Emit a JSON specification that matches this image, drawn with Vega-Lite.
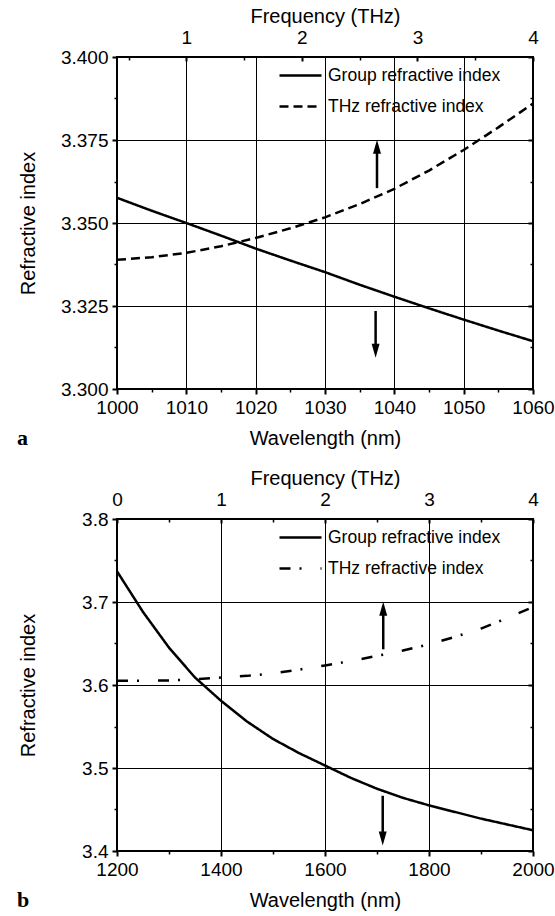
{
  "$schema": "https://vega.github.io/schema/vega-lite/v6.json",
  "background": "white",
  "padding": {"left": 16, "top": 5, "right": 0, "bottom": 0},
  "spacing": 130,
  "bounds": "flush",
  "datasets": {
    "a_curves": [
      {"lambda": 1000, "n": 3.3576, "series": "Group refractive index"},
      {"lambda": 1005, "n": 3.3537, "series": "Group refractive index"},
      {"lambda": 1010, "n": 3.3500, "series": "Group refractive index"},
      {"lambda": 1015, "n": 3.3462, "series": "Group refractive index"},
      {"lambda": 1020, "n": 3.3423, "series": "Group refractive index"},
      {"lambda": 1025, "n": 3.3387, "series": "Group refractive index"},
      {"lambda": 1030, "n": 3.3352, "series": "Group refractive index"},
      {"lambda": 1035, "n": 3.3314, "series": "Group refractive index"},
      {"lambda": 1040, "n": 3.3278, "series": "Group refractive index"},
      {"lambda": 1045, "n": 3.3243, "series": "Group refractive index"},
      {"lambda": 1050, "n": 3.3209, "series": "Group refractive index"},
      {"lambda": 1055, "n": 3.3176, "series": "Group refractive index"},
      {"lambda": 1060, "n": 3.3144, "series": "Group refractive index"},
      {"lambda": 1000, "n": 3.3389, "series": "THz refractive index"},
      {"lambda": 1005, "n": 3.3397, "series": "THz refractive index"},
      {"lambda": 1010, "n": 3.3410, "series": "THz refractive index"},
      {"lambda": 1015, "n": 3.3430, "series": "THz refractive index"},
      {"lambda": 1020, "n": 3.3455, "series": "THz refractive index"},
      {"lambda": 1025, "n": 3.3484, "series": "THz refractive index"},
      {"lambda": 1030, "n": 3.3517, "series": "THz refractive index"},
      {"lambda": 1035, "n": 3.3557, "series": "THz refractive index"},
      {"lambda": 1040, "n": 3.3603, "series": "THz refractive index"},
      {"lambda": 1045, "n": 3.3658, "series": "THz refractive index"},
      {"lambda": 1050, "n": 3.3720, "series": "THz refractive index"},
      {"lambda": 1055, "n": 3.3788, "series": "THz refractive index"},
      {"lambda": 1060, "n": 3.3860, "series": "THz refractive index"}
    ],
    "a_arrows": [
      {"lambda": 1037.5, "from": 3.3605, "to": 3.3730, "dir": "up"},
      {"lambda": 1037.3, "from": 3.3235, "to": 3.3115, "dir": "down"}
    ],
    "a_freq": [{"THz": 0.4, "n": 3.3}, {"THz": 4, "n": 3.4}],
    "b_curves": [
      {"lambda": 1200, "n": 3.737, "series": "Group refractive index"},
      {"lambda": 1250, "n": 3.688, "series": "Group refractive index"},
      {"lambda": 1300, "n": 3.645, "series": "Group refractive index"},
      {"lambda": 1350, "n": 3.609, "series": "Group refractive index"},
      {"lambda": 1400, "n": 3.581, "series": "Group refractive index"},
      {"lambda": 1450, "n": 3.556, "series": "Group refractive index"},
      {"lambda": 1500, "n": 3.535, "series": "Group refractive index"},
      {"lambda": 1550, "n": 3.518, "series": "Group refractive index"},
      {"lambda": 1600, "n": 3.503, "series": "Group refractive index"},
      {"lambda": 1650, "n": 3.488, "series": "Group refractive index"},
      {"lambda": 1700, "n": 3.475, "series": "Group refractive index"},
      {"lambda": 1750, "n": 3.464, "series": "Group refractive index"},
      {"lambda": 1800, "n": 3.455, "series": "Group refractive index"},
      {"lambda": 1850, "n": 3.447, "series": "Group refractive index"},
      {"lambda": 1900, "n": 3.439, "series": "Group refractive index"},
      {"lambda": 1950, "n": 3.432, "series": "Group refractive index"},
      {"lambda": 2000, "n": 3.425, "series": "Group refractive index"},
      {"lambda": 1200, "n": 3.605, "series": "THz refractive index"},
      {"lambda": 1250, "n": 3.605, "series": "THz refractive index"},
      {"lambda": 1300, "n": 3.6055, "series": "THz refractive index"},
      {"lambda": 1350, "n": 3.607, "series": "THz refractive index"},
      {"lambda": 1400, "n": 3.609, "series": "THz refractive index"},
      {"lambda": 1450, "n": 3.611, "series": "THz refractive index"},
      {"lambda": 1500, "n": 3.614, "series": "THz refractive index"},
      {"lambda": 1550, "n": 3.6185, "series": "THz refractive index"},
      {"lambda": 1600, "n": 3.6235, "series": "THz refractive index"},
      {"lambda": 1650, "n": 3.629, "series": "THz refractive index"},
      {"lambda": 1700, "n": 3.635, "series": "THz refractive index"},
      {"lambda": 1750, "n": 3.6415, "series": "THz refractive index"},
      {"lambda": 1800, "n": 3.649, "series": "THz refractive index"},
      {"lambda": 1850, "n": 3.658, "series": "THz refractive index"},
      {"lambda": 1900, "n": 3.668, "series": "THz refractive index"},
      {"lambda": 1950, "n": 3.6805, "series": "THz refractive index"},
      {"lambda": 2000, "n": 3.694, "series": "THz refractive index"}
    ],
    "b_arrows": [
      {"lambda": 1712, "from": 3.643, "to": 3.692, "dir": "up"},
      {"lambda": 1711, "from": 3.4665, "to": 3.415, "dir": "down"}
    ],
    "b_freq": [{"THz": 0, "n": 3.4}, {"THz": 4, "n": 3.8}]
  },
  "resolve": {
    "scale": {"strokeDash": "independent", "shape": "independent"},
    "legend": {"strokeDash": "independent", "shape": "independent"}
  },
  "vconcat": [
    {
      "width": 416,
      "height": 332,
      "title": {"text": "a", "orient": "bottom", "anchor": "start", "frame": "group", "offset": -21, "dx": -100, "font": "Liberation Serif", "fontWeight": "bold", "fontSize": 22, "color": "black"},
      "resolve": {"scale": {"x": "independent"}, "axis": {"x": "independent", "y": "independent"}},
      "layer": [
        {
          "data": {"name": "a_curves"},
          "mark": {"type": "line", "strokeWidth": 2.5, "color": "black"},
          "encoding": {
            "x": {"field": "lambda", "type": "quantitative", "scale": {"domain": [1000, 1060], "nice": false, "zero": false},
              "axis": {"orient": "bottom", "values": [1000, 1010, 1020, 1030, 1040, 1050, 1060], "format": "d", "title": "Wavelength (nm)", "grid": true, "tickSize": 5, "labelPadding": 4.5, "titlePadding": 11}},
            "y": {"field": "n", "type": "quantitative", "scale": {"domain": [3.3, 3.4], "nice": false, "zero": false},
              "axis": {"orient": "left", "values": [3.3, 3.325, 3.35, 3.375, 3.4], "format": ".3f", "title": "Refractive index", "grid": true, "tickSize": 5, "labelPadding": 4, "titleX": -79}},
            "strokeDash": {"field": "series", "type": "nominal",
              "scale": {"domain": ["Group refractive index", "THz refractive index"], "range": [[1, 0], [9, 5]]},
              "legend": {"orient": "none", "legendX": 161, "legendY": -4, "title": null, "symbolType": "stroke", "symbolSize": 1764, "symbolStrokeWidth": 2.5, "symbolStrokeColor": "black", "labelFont": "Liberation Sans", "labelFontSize": 17.5, "labelColor": "black", "labelOffset": 5, "labelLimit": 0, "rowPadding": -10, "padding": 0}}
          }
        },
        {
          "data": {"name": "a_curves"},
          "mark": {"type": "point", "opacity": 0},
          "encoding": {
            "x": {"field": "lambda", "type": "quantitative", "scale": {"domain": [1000, 1060], "nice": false, "zero": false}, "axis": {"orient": "bottom", "values": [1005, 1015, 1025, 1035, 1045, 1055], "labels": false, "title": null, "grid": false, "tickSize": 3, "tickWidth": 1.5}},
            "y": {"field": "n", "type": "quantitative", "axis": {"orient": "left", "values": [3.3125, 3.3375, 3.3625, 3.3875], "labels": false, "title": null, "grid": false, "tickSize": 3, "tickWidth": 1.5}}
          }
        },
        {
          "data": {"name": "a_curves"},
          "mark": {"type": "point", "opacity": 0},
          "encoding": {
            "x": {"field": "lambda", "type": "quantitative", "scale": {"domain": [1000, 1060], "nice": false, "zero": false}, "axis": null},
            "y": {"field": "n", "type": "quantitative", "axis": {"orient": "right", "values": [3.3, 3.325, 3.35, 3.375, 3.4], "labels": false, "title": null, "grid": false, "tickSize": -5}}
          }
        },
        {
          "data": {"name": "a_curves"},
          "mark": {"type": "point", "opacity": 0},
          "encoding": {
            "x": {"field": "lambda", "type": "quantitative", "scale": {"domain": [1000, 1060], "nice": false, "zero": false}, "axis": null},
            "y": {"field": "n", "type": "quantitative", "axis": {"orient": "right", "values": [3.3125, 3.3375, 3.3625, 3.3875], "labels": false, "title": null, "grid": false, "tickSize": -3, "tickWidth": 1.5}}
          }
        },
        {
          "data": {"name": "a_arrows"},
          "mark": {"type": "rule", "strokeWidth": 2.5, "color": "black"},
          "encoding": {
            "x": {"field": "lambda", "type": "quantitative", "scale": {"domain": [1000, 1060], "nice": false, "zero": false}, "axis": null},
            "y": {"field": "from", "type": "quantitative", "axis": null},
            "y2": {"field": "to"}
          }
        },
        {
          "data": {"name": "a_arrows"},
          "mark": {"type": "point", "filled": true, "color": "black", "opacity": 1, "size": 196},
          "encoding": {
            "x": {"field": "lambda", "type": "quantitative", "scale": {"domain": [1000, 1060], "nice": false, "zero": false}, "axis": null},
            "y": {"field": "to", "type": "quantitative", "axis": null},
            "shape": {"field": "dir", "type": "nominal", "scale": {"domain": ["up", "down"], "range": ["M0,-1L0.57,1L-0.57,1Z", "M0,1L0.57,-1L-0.57,-1Z"]}, "legend": null}
          }
        },
        {
          "data": {"name": "a_freq"},
          "mark": {"type": "point", "opacity": 0},
          "encoding": {
            "x": {"field": "THz", "type": "quantitative", "scale": {"domain": [0.4, 4], "nice": false, "zero": false},
              "axis": {"orient": "top", "values": [1, 2, 3, 4], "format": "d", "title": "Frequency (THz)", "grid": false, "tickSize": -4, "labelPadding": 14, "titlePadding": 2}},
            "y": {"field": "n", "type": "quantitative", "axis": null}
          }
        },
        {
          "data": {"name": "a_freq"},
          "mark": {"type": "point", "opacity": 0},
          "encoding": {
            "x": {"field": "THz", "type": "quantitative", "scale": {"domain": [0.4, 4], "nice": false, "zero": false}, "axis": {"orient": "top", "values": [0.5, 1.5, 2.5, 3.5], "labels": false, "title": null, "grid": false, "tickSize": -3, "tickWidth": 1.5}},
            "y": {"field": "n", "type": "quantitative", "axis": null}
          }
        }
      ]
    },
    {
      "width": 416,
      "height": 332,
      "title": {"text": "b", "orient": "bottom", "anchor": "start", "frame": "group", "offset": -21, "dx": -100, "font": "Liberation Serif", "fontWeight": "bold", "fontSize": 22, "color": "black"},
      "resolve": {"scale": {"x": "independent"}, "axis": {"x": "independent", "y": "independent"}},
      "layer": [
        {
          "data": {"name": "b_curves"},
          "mark": {"type": "line", "strokeWidth": 2.5, "color": "black"},
          "encoding": {
            "x": {"field": "lambda", "type": "quantitative", "scale": {"domain": [1200, 2000], "nice": false, "zero": false},
              "axis": {"orient": "bottom", "values": [1200, 1400, 1600, 1800, 2000], "format": "d", "title": "Wavelength (nm)", "grid": true, "tickSize": 5, "labelPadding": 4.5, "titlePadding": 11}},
            "y": {"field": "n", "type": "quantitative", "scale": {"domain": [3.4, 3.8], "nice": false, "zero": false},
              "axis": {"orient": "left", "values": [3.4, 3.5, 3.6, 3.7, 3.8], "format": ".1f", "title": "Refractive index", "grid": true, "tickSize": 5, "labelPadding": 4, "titleX": -79}},
            "strokeDash": {"field": "series", "type": "nominal",
              "scale": {"domain": ["Group refractive index", "THz refractive index"], "range": [[1, 0], [11, 9, 2, 19]]},
              "legend": {"orient": "none", "legendX": 161, "legendY": -4, "title": null, "symbolType": "stroke", "symbolSize": 1764, "symbolStrokeWidth": 2.5, "symbolStrokeColor": "black", "labelFont": "Liberation Sans", "labelFontSize": 17.5, "labelColor": "black", "labelOffset": 5, "labelLimit": 0, "rowPadding": -10, "padding": 0}}
          }
        },
        {
          "data": {"name": "b_curves"},
          "mark": {"type": "point", "opacity": 0},
          "encoding": {
            "x": {"field": "lambda", "type": "quantitative", "scale": {"domain": [1200, 2000], "nice": false, "zero": false}, "axis": {"orient": "bottom", "values": [1300, 1500, 1700, 1900], "labels": false, "title": null, "grid": false, "tickSize": 3, "tickWidth": 1.5}},
            "y": {"field": "n", "type": "quantitative", "axis": {"orient": "left", "values": [3.45, 3.55, 3.65, 3.75], "labels": false, "title": null, "grid": false, "tickSize": 3, "tickWidth": 1.5}}
          }
        },
        {
          "data": {"name": "b_curves"},
          "mark": {"type": "point", "opacity": 0},
          "encoding": {
            "x": {"field": "lambda", "type": "quantitative", "scale": {"domain": [1200, 2000], "nice": false, "zero": false}, "axis": null},
            "y": {"field": "n", "type": "quantitative", "axis": {"orient": "right", "values": [3.4, 3.5, 3.6, 3.7, 3.8], "labels": false, "title": null, "grid": false, "tickSize": -5}}
          }
        },
        {
          "data": {"name": "b_curves"},
          "mark": {"type": "point", "opacity": 0},
          "encoding": {
            "x": {"field": "lambda", "type": "quantitative", "scale": {"domain": [1200, 2000], "nice": false, "zero": false}, "axis": null},
            "y": {"field": "n", "type": "quantitative", "axis": {"orient": "right", "values": [3.45, 3.55, 3.65, 3.75], "labels": false, "title": null, "grid": false, "tickSize": -3, "tickWidth": 1.5}}
          }
        },
        {
          "data": {"name": "b_arrows"},
          "mark": {"type": "rule", "strokeWidth": 2.5, "color": "black"},
          "encoding": {
            "x": {"field": "lambda", "type": "quantitative", "scale": {"domain": [1200, 2000], "nice": false, "zero": false}, "axis": null},
            "y": {"field": "from", "type": "quantitative", "axis": null},
            "y2": {"field": "to"}
          }
        },
        {
          "data": {"name": "b_arrows"},
          "mark": {"type": "point", "filled": true, "color": "black", "opacity": 1, "size": 196},
          "encoding": {
            "x": {"field": "lambda", "type": "quantitative", "scale": {"domain": [1200, 2000], "nice": false, "zero": false}, "axis": null},
            "y": {"field": "to", "type": "quantitative", "axis": null},
            "shape": {"field": "dir", "type": "nominal", "scale": {"domain": ["up", "down"], "range": ["M0,-1L0.57,1L-0.57,1Z", "M0,1L0.57,-1L-0.57,-1Z"]}, "legend": null}
          }
        },
        {
          "data": {"name": "b_freq"},
          "mark": {"type": "point", "opacity": 0},
          "encoding": {
            "x": {"field": "THz", "type": "quantitative", "scale": {"domain": [0, 4], "nice": false, "zero": false},
              "axis": {"orient": "top", "values": [0, 1, 2, 3, 4], "format": "d", "title": "Frequency (THz)", "grid": false, "tickSize": -4, "labelPadding": 14, "titlePadding": 2}},
            "y": {"field": "n", "type": "quantitative", "axis": null}
          }
        },
        {
          "data": {"name": "b_freq"},
          "mark": {"type": "point", "opacity": 0},
          "encoding": {
            "x": {"field": "THz", "type": "quantitative", "scale": {"domain": [0, 4], "nice": false, "zero": false}, "axis": {"orient": "top", "values": [0.5, 1.5, 2.5, 3.5], "labels": false, "title": null, "grid": false, "tickSize": -3, "tickWidth": 1.5}},
            "y": {"field": "n", "type": "quantitative", "axis": null}
          }
        }
      ]
    }
  ],
  "config": {
    "view": {"stroke": "black", "strokeWidth": 2},
    "axis": {
      "labelFont": "Liberation Sans", "labelFontSize": 19, "labelColor": "black",
      "titleFont": "Liberation Sans", "titleFontSize": 20, "titleFontWeight": "normal", "titleColor": "black",
      "tickColor": "black", "tickWidth": 2, "domain": false,
      "gridColor": "black", "gridOpacity": 1, "gridWidth": 1,
      "labelFlush": false, "labelOverlap": false
    }
  }
}
